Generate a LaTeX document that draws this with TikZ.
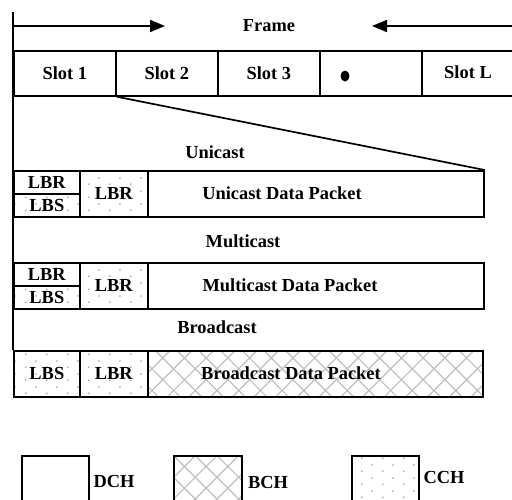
\documentclass[tikz,border=0pt]{standalone}
\usepackage{fontspec}
\setmainfont{Liberation Serif}
\usetikzlibrary{arrows.meta, patterns.meta, shapes.geometric}

\tikzdeclarepattern{
  name=cchdots,
  type=colored,
  bounding box={(0pt,0pt) and (21pt,13pt)},
  tile size={(21pt,13pt)},
  code={
    \fill[black!35] (5pt,3pt) circle (1pt);
    \fill[black!35] (15.5pt,9.5pt) circle (1pt);
  }
}
\tikzdeclarepattern{
  name=bchgrid,
  type=colored,
  bounding box={(-1pt,-1pt) and (22.7pt,22.7pt)},
  tile size={(21.7pt,21.7pt)},
  code={
    \draw[black!25, line width=1.2pt] (0pt,0pt) -- (21.7pt,21.7pt)
      (0pt,21.7pt) -- (21.7pt,0pt);
  }
}

\begin{document}
\begin{tikzpicture}[x=1pt, y=-1pt, line width=1.7pt,
    every node/.style={font=\fontsize{18.4pt}{20pt}\selectfont\bfseries},
    box/.style={draw, rectangle, inner sep=0pt, anchor=north west},
    cch/.style={pattern=cchdots},
    bch/.style={pattern=bchgrid},
    frame arrow/.style={-{Triangle[length=15pt, width=12pt]}}]
    \useasboundingbox (0,0) rectangle (512,499);
    \clip (0,0) rectangle (512,499);

    % frame
    \coordinate (fl) at (13,26);
    \coordinate (fltip) at (165,26);
    \coordinate (fr) at (512,26);
    \coordinate (frtip) at (372,26);
    \coordinate (top) at (13,12);
    \node (frame) at (269,26) {Frame};
    \draw[frame arrow] (fl) -- (fltip);
    \draw[frame arrow] (fr) -- (frtip);

    % slots
    \node[box, minimum width=102pt, minimum height=45pt] (s1) at (13,50) {Slot 1};
    \node[box, minimum width=102pt, minimum height=45pt] (s2) at (115,50) {Slot 2};
    \node[box, minimum width=102pt, minimum height=45pt] (s3) at (217,50) {Slot 3};
    \node[box, minimum width=102pt, minimum height=45pt] (s4) at (319,50) {};
    \node[box, minimum width=102pt, minimum height=45pt] (sL) at (421,50) {};
    \node[ellipse, fill, inner sep=0pt, minimum width=9pt, minimum height=11pt] (dot) at (345,76) {};
    \node (sLtext) at (468,72) {Slot L};

    % unicast
    \node (uni) at (215,152) {Unicast};
    \node[box, minimum width=66pt, minimum height=23pt] (ulbr) at (13,170) {LBR};
    \node[box, cch, minimum width=66pt, minimum height=23pt] (ulbs) at (13,193) {LBS};
    \node[box, cch, minimum width=68pt, minimum height=46pt] (ucch) at (79,170) {LBR};
    \node[box, minimum width=336pt, minimum height=46pt] (udata) at (147,170) {};
    \node (utext) at (282,193) {Unicast Data Packet};

    % multicast
    \node (multi) at (243,241) {Multicast};
    \node[box, minimum width=66pt, minimum height=23pt] (mlbr) at (13,262) {LBR};
    \node[box, cch, minimum width=66pt, minimum height=23pt] (mlbs) at (13,285) {LBS};
    \node[box, cch, minimum width=68pt, minimum height=46pt] (mcch) at (79,262) {LBR};
    \node[box, minimum width=336pt, minimum height=46pt] (mdata) at (147,262) {};
    \node (mtext) at (290,285) {Multicast Data Packet};

    % broadcast
    \node (broad) at (217,327) {Broadcast};
    \node[box, cch, minimum width=66pt, minimum height=46pt] (blbs) at (13,350) {LBS};
    \node[box, cch, minimum width=68pt, minimum height=46pt] (bcch) at (79,350) {LBR};
    \node[box, bch, minimum width=335pt, minimum height=46pt] (bdata) at (147,350) {};
    \node (btext) at (291,373) {Broadcast Data Packet};

    \draw (top) -- (blbs.north west);
    \draw (s1.south east) -- (udata.north east);

    % legend
    \node[box, minimum width=67pt, minimum height=60pt] (dch) at (21,455) {};
    \node (dchtext) at (114,481) {DCH};
    \node[box, bch, minimum width=68pt, minimum height=60pt] (bch) at (173,455) {};
    \node (bchtext) at (268,482) {BCH};
    \node[box, cch, minimum width=67pt, minimum height=60pt] (cch) at (351,455) {};
    \node (cchtext) at (444,477) {CCH};
\end{tikzpicture}
\end{document}
